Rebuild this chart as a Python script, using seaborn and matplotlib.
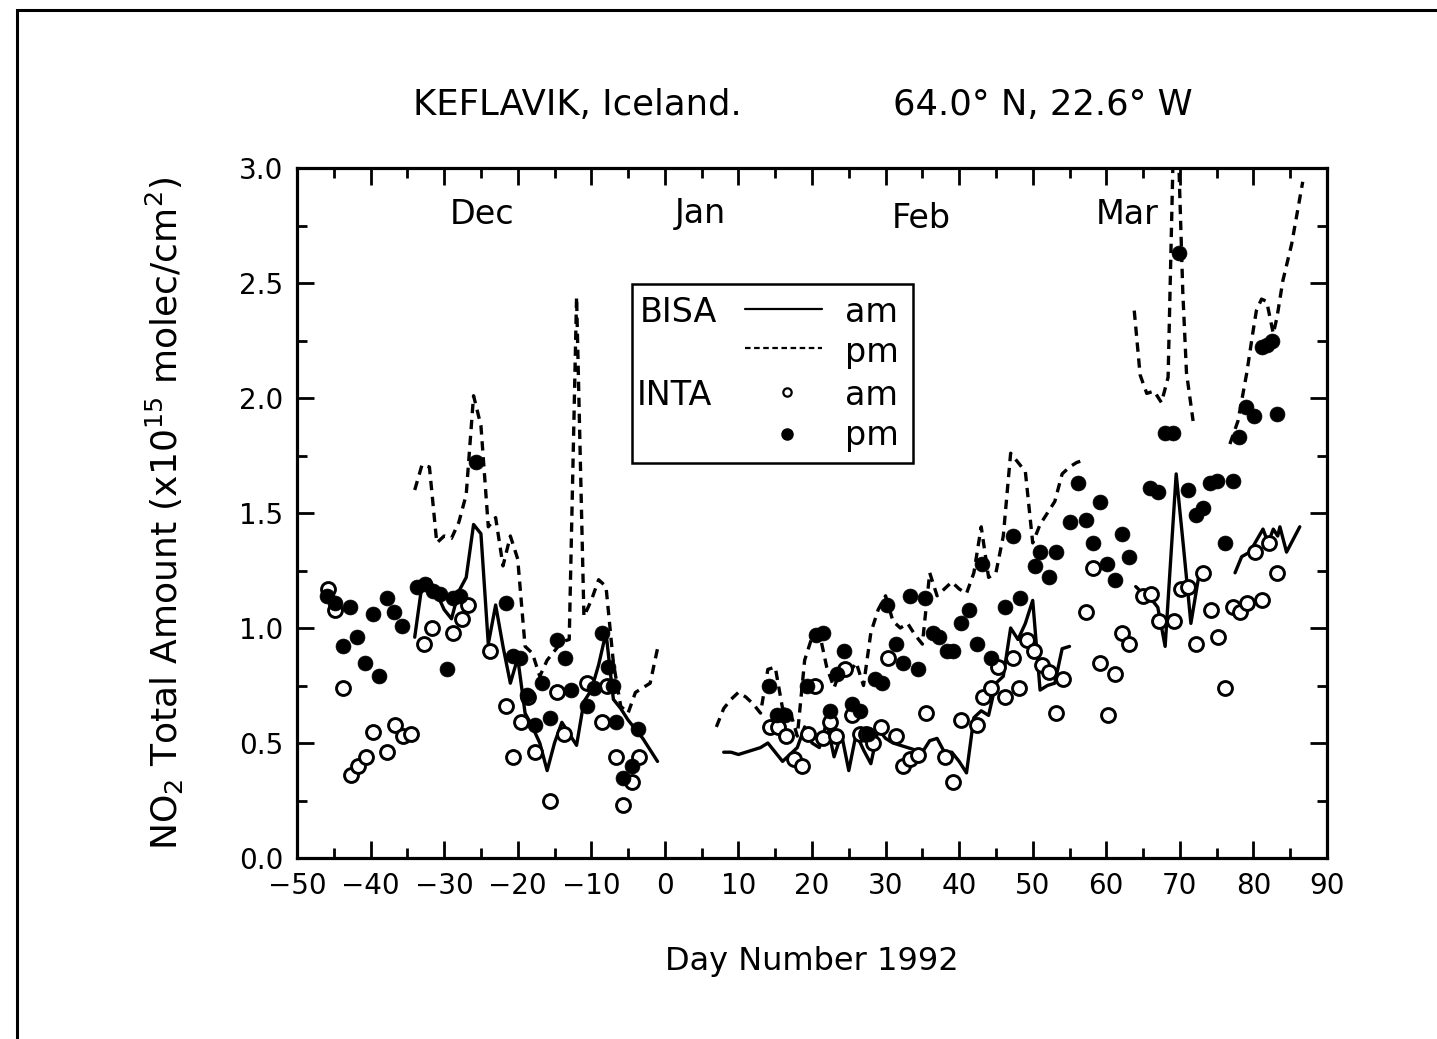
import numpy as np
import pandas as pd
import seaborn as sns
import matplotlib
matplotlib.use("Agg")
import matplotlib.pyplot as plt
from matplotlib.lines import Line2D
from matplotlib.patches import Rectangle

# ---------------- data ----------------
# BISA am (solid line), separate segments
bisa_am_seg1_day = list(range(-34, 0))
bisa_am_seg1_val = [0.96, 1.19, 1.21, 1.15, 1.08, 1.04, 1.16, 1.22, 1.45, 1.41,
                    0.93, 1.10, 0.92, 0.76, 0.87, 0.63, 0.57, 0.50, 0.38, 0.50,
                    0.59, 0.54, 0.49, 0.68, 0.73, 0.84, 0.98, 0.69, 0.65, 0.60,
                    0.56, 0.52, 0.47, 0.42]
bisa_am_seg2_day = list(range(8, 56))
bisa_am_seg2_val = [0.46, 0.46, 0.45, 0.46, 0.47, 0.48, 0.50, 0.46, 0.42, 0.45,
                    0.48, 0.57, 0.50, 0.48, 0.59, 0.44, 0.54, 0.38, 0.54, 0.47,
                    0.41, 0.56, 0.52, 0.50, 0.49, 0.48, 0.47, 0.46, 0.51, 0.52,
                    0.46, 0.46, 0.42, 0.37, 0.61, 0.64, 0.62, 0.76, 0.79, 1.00,
                    0.95, 1.02, 1.12, 0.73, 0.75, 0.76, 0.91, 0.92]
bisa_am_seg3_day = [64, 65, 66, 67, 68, 69.5, 70.5, 71.5, 72.7]
bisa_am_seg3_val = [1.18, 1.15, 1.13, 1.09, 0.92, 1.67, 1.35, 1.02, 1.25]
bisa_am_seg4_day = [77.5, 78.4, 79.5, 80.4, 81.3, 82.0, 82.7, 83.3, 83.6, 84.5, 86.3]
bisa_am_seg4_val = [1.24, 1.31, 1.33, 1.38, 1.43, 1.37, 1.43, 1.40, 1.44, 1.33, 1.44]

# BISA pm (dashed line)
bisa_pm_seg1_day = list(range(-34, 0))
bisa_pm_seg1_val = [1.60, 1.71, 1.70, 1.37, 1.40, 1.39, 1.46, 1.58, 2.01, 1.88,
                    1.44, 1.48, 1.27, 1.40, 1.30, 0.92, 0.89, 0.79, 0.86, 0.90,
                    0.94, 0.95, 2.44, 1.05, 1.12, 1.21, 1.18, 0.85, 0.66, 0.63,
                    0.72, 0.74, 0.76, 0.91]
bisa_pm_seg2_day = list(range(7, 58))
bisa_pm_seg2_val = [0.57, 0.65, 0.69, 0.72, 0.70, 0.67, 0.63, 0.82, 0.83, 0.65,
                    0.64, 0.53, 0.86, 0.96, 0.98, 0.83, 0.74, 0.83, 0.80, 0.85,
                    0.75, 0.98, 1.08, 1.14, 1.03, 1.00, 1.02, 0.97, 0.93, 1.24,
                    1.14, 1.17, 1.20, 1.17, 1.15, 1.24, 1.44, 1.22, 1.24, 1.40,
                    1.76, 1.72, 1.68, 1.37, 1.45, 1.50, 1.55, 1.67, 1.70, 1.72,
                    1.73]
bisa_pm_seg3_day = [63.8, 64.6, 65.5, 66.5, 67.5, 68.4, 69.4, 70.4, 70.9, 71.8]
bisa_pm_seg3_val = [2.38, 2.10, 2.02, 2.03, 1.98, 2.09, 3.50, 2.46, 2.11, 1.90]
bisa_pm_seg4_day = [76.8, 77.9, 79.1, 79.9, 80.4, 81.1, 81.8, 82.7, 83.2, 84.0, 85.2, 86.7]
bisa_pm_seg4_val = [1.80, 1.90, 2.11, 2.28, 2.38, 2.43, 2.42, 2.28, 2.35, 2.51, 2.67, 2.94]

# INTA am (open circles)
inta_am_day = [-45.8, -44.9, -43.8, -42.7, -41.7, -40.6, -39.7, -37.8, -36.7, -35.6,
               -34.5, -32.8, -31.7, -28.8, -27.6, -26.8, -23.7, -21.6, -20.7, -19.6,
               -18.6, -17.7, -15.6, -14.7, -13.7, -10.6, -8.6, -7.8, -6.6, -5.7,
               -4.5, -3.5,
               14.3, 15.4, 16.4, 17.5, 18.6, 19.5, 20.4, 21.5, 22.4, 23.3,
               24.5, 25.4, 26.5, 27.4, 28.3, 29.4, 30.3, 31.4, 32.4, 33.3,
               34.4, 35.5, 38.1, 39.2, 40.3, 42.4, 43.3, 44.3, 45.3, 46.2,
               47.3, 48.1, 49.2, 50.2, 51.2, 52.2, 53.1, 54.1, 57.2, 58.2,
               59.1, 60.2, 61.2, 62.1, 63.1, 65.0, 66.1, 67.2, 69.2, 70.1,
               71.1, 72.2, 73.2, 74.2, 75.2, 76.2, 77.2, 78.2, 79.1, 80.2,
               81.1, 82.1, 83.2]
inta_am_val = [1.17, 1.08, 0.74, 0.36, 0.40, 0.44, 0.55, 0.46, 0.58, 0.53,
               0.54, 0.93, 1.00, 0.98, 1.04, 1.10, 0.90, 0.66, 0.44, 0.59,
               0.70, 0.46, 0.25, 0.72, 0.54, 0.76, 0.59, 0.75, 0.44, 0.23,
               0.33, 0.44,
               0.57, 0.57, 0.53, 0.43, 0.40, 0.54, 0.75, 0.52, 0.59, 0.53,
               0.82, 0.62, 0.54, 0.54, 0.50, 0.57, 0.87, 0.53, 0.40, 0.43,
               0.45, 0.63, 0.44, 0.33, 0.60, 0.58, 0.70, 0.74, 0.83, 0.70,
               0.87, 0.74, 0.95, 0.90, 0.84, 0.81, 0.63, 0.78, 1.07, 1.26,
               0.85, 0.62, 0.80, 0.98, 0.93, 1.14, 1.15, 1.03, 1.03, 1.17,
               1.18, 0.93, 1.24, 1.08, 0.96, 0.74, 1.09, 1.07, 1.11, 1.33,
               1.12, 1.37, 1.24]

# INTA pm (filled circles)
inta_pm_day = [-45.9, -44.9, -43.8, -42.8, -41.8, -40.8, -39.7, -38.8, -37.8, -36.8,
               -35.7, -33.7, -32.6, -31.5, -30.6, -29.6, -28.8, -27.9, -25.7, -21.6,
               -20.7, -19.7, -18.7, -17.7, -16.7, -15.6, -14.7, -13.6, -12.7, -10.6,
               -9.6, -8.6, -7.7, -7.0, -6.6, -5.7, -4.5, -3.7,
               14.1, 15.3, 16.3, 19.3, 20.5, 21.5, 22.4, 23.4, 24.4, 25.4,
               26.5, 27.6, 28.5, 29.5, 30.2, 31.4, 32.4, 33.3, 34.4, 35.3,
               36.4, 37.3, 38.4, 39.2, 40.3, 41.3, 42.4, 43.1, 44.3, 46.3,
               47.3, 48.3, 50.3, 51.0, 52.2, 53.1, 55.1, 56.2, 57.2, 58.2,
               59.1, 60.1, 61.2, 62.1, 63.1, 65.9, 67.0, 68.0, 69.1, 69.9,
               71.1, 72.2, 73.2, 74.1, 75.0, 76.1, 77.2, 78.1, 79.0, 80.1,
               81.1, 81.8, 82.5, 83.2]
inta_pm_val = [1.14, 1.11, 0.92, 1.09, 0.96, 0.85, 1.06, 0.79, 1.13, 1.07,
               1.01, 1.18, 1.19, 1.16, 1.15, 0.82, 1.13, 1.14, 1.72, 1.11,
               0.88, 0.87, 0.71, 0.58, 0.76, 0.61, 0.95, 0.87, 0.73, 0.66,
               0.74, 0.98, 0.83, 0.75, 0.59, 0.35, 0.40, 0.56,
               0.75, 0.62, 0.62, 0.75, 0.97, 0.98, 0.64, 0.80, 0.90, 0.67,
               0.64, 0.54, 0.78, 0.76, 1.10, 0.93, 0.85, 1.14, 0.82, 1.13,
               0.98, 0.96, 0.90, 0.90, 1.02, 1.08, 0.93, 1.28, 0.87, 1.09,
               1.40, 1.13, 1.27, 1.33, 1.22, 1.33, 1.46, 1.63, 1.47, 1.37,
               1.55, 1.28, 1.21, 1.41, 1.31, 1.61, 1.59, 1.85, 1.85, 2.63,
               1.60, 1.49, 1.52, 1.63, 1.64, 1.37, 1.64, 1.83, 1.96, 1.92,
               2.22, 2.23, 2.25, 1.93]

month_names = ["Dec", "Jan", "Feb", "Mar"]
month_day = [-24.9, 4.8, 34.8, 62.9]
month_y = [2.80, 2.80, 2.78, 2.80]


def seg_frame(segments):
    rows = []
    for i, (d, v) in enumerate(segments):
        for a, b in zip(d, v):
            rows.append({"day": a, "val": b, "seg": i})
    return pd.DataFrame(rows)


am_df = seg_frame([(bisa_am_seg1_day, bisa_am_seg1_val), (bisa_am_seg2_day, bisa_am_seg2_val),
                   (bisa_am_seg3_day, bisa_am_seg3_val), (bisa_am_seg4_day, bisa_am_seg4_val)])
pm_df = seg_frame([(bisa_pm_seg1_day, bisa_pm_seg1_val), (bisa_pm_seg2_day, bisa_pm_seg2_val),
                   (bisa_pm_seg3_day, bisa_pm_seg3_val), (bisa_pm_seg4_day, bisa_pm_seg4_val)])
inta_am_df = pd.DataFrame({"day": inta_am_day, "val": inta_am_val})
inta_pm_df = pd.DataFrame({"day": inta_pm_day, "val": inta_pm_val})

# ---------------- style ----------------
sns.set_theme(style="white")
plt.rcParams["font.family"] = ["DejaVu Sans"]
plt.rcParams["mathtext.default"] = "regular"
plt.rcParams["text.color"] = "black"
plt.rcParams["axes.labelcolor"] = "black"
plt.rcParams["xtick.color"] = "black"
plt.rcParams["ytick.color"] = "black"
FS_TICK = 20
FS = 24

fig = plt.figure(figsize=(14.37, 10.39), dpi=100)
ax = fig.add_axes([297 / 1437, 1 - 858 / 1039, 1030 / 1437, 690 / 1039])

sns.lineplot(data=am_df, x="day", y="val", units="seg", estimator=None,
             color="black", lw=2.4, ax=ax, sort=False)
n_am = len(ax.get_lines())
sns.lineplot(data=pm_df, x="day", y="val", units="seg", estimator=None,
             color="black", lw=2.4, ax=ax, sort=False)
for ln in ax.get_lines()[n_am:]:
    ln.set_linestyle((0, (2.8, 2.0)))

sns.scatterplot(data=inta_am_df, x="day", y="val", marker="o", s=100,
                facecolor="white", edgecolor="black", linewidth=2.1, ax=ax, zorder=3)
sns.scatterplot(data=inta_pm_df, x="day", y="val", marker="o", s=115,
                color="black", edgecolor="black", linewidth=0.5, ax=ax, zorder=4)

ax.set_xlim(-50, 90)
ax.set_ylim(0, 3.0)
ax.set_xticks(np.arange(-50, 91, 10))
ax.set_xticks(np.arange(-45, 90, 10), minor=True)
ax.set_yticks(np.arange(0, 3.01, 0.5))
ax.set_yticks(np.arange(0.25, 3.0, 0.5), minor=True)
ax.set_xticklabels([f"{t}".replace("-", "\u2212") for t in range(-50, 91, 10)])
ax.set_yticklabels([f"{t:.1f}" for t in np.arange(0, 3.01, 0.5)])
ax.tick_params(which="both", direction="in", top=True, right=True,
               bottom=True, left=True, width=2.0, colors="black",
               labelsize=FS_TICK, pad=10)
ax.tick_params(which="major", length=12)
ax.tick_params(which="minor", length=7)
for s in ax.spines.values():
    s.set_linewidth(2.3)
    s.set_color("black")

ax.set_xlabel("Day Number 1992", fontsize=23)
ax.xaxis.set_label_coords(0.5, -0.128)
ax.set_ylabel("NO$_2$ Total Amount (x10$^{15}$ molec/cm$^2$)", fontsize=26)
ax.yaxis.set_label_coords(-0.108, 0.5)

for name, d, y in zip(month_names, month_day, month_y):
    ax.text(d, y, name, fontsize=FS, ha="center", va="center")

fig.text(413 / 1437, 1 - 105 / 1039, "KEFLAVIK, Iceland.", fontsize=25.5, ha="left", va="center")
fig.text(1193 / 1437, 1 - 105 / 1039, "64.0\u00b0 N, 22.6\u00b0 W", fontsize=25.5, ha="right", va="center")

# legend box drawn manually
ax.add_patch(Rectangle((0.325, 0.572), 0.273, 0.260, transform=ax.transAxes,
                       fill=True, facecolor="white", edgecolor="black", lw=1.8, zorder=6))
ax.text(0.333, 0.791, "BISA", transform=ax.transAxes, fontsize=FS, va="center", zorder=7)
ax.text(0.330, 0.671, "INTA", transform=ax.transAxes, fontsize=FS, va="center", zorder=7)
for yy, lab in zip([0.791, 0.733, 0.671, 0.613], ["am", "pm", "am", "pm"]):
    ax.text(0.532, yy, lab, transform=ax.transAxes, fontsize=FS, va="center", zorder=7)
ax.add_line(Line2D([0.435, 0.510], [0.795, 0.795], transform=ax.transAxes,
                   color="black", lw=1.6, zorder=7))
ax.add_line(Line2D([0.435, 0.510], [0.739, 0.739], transform=ax.transAxes,
                   color="black", lw=1.6, ls=(0, (2.5, 1.6)), zorder=7))
ax.add_line(Line2D([0.476], [0.675], transform=ax.transAxes, marker="o", ms=6,
                   mfc="white", mec="black", mew=1.6, zorder=7))
ax.add_line(Line2D([0.476], [0.614], transform=ax.transAxes, marker="o", ms=8,
                   mfc="black", mec="black", zorder=7))

# outer page frame
fig.patches.append(Rectangle((17 / 1437, -0.5), 2.0, 1.5 - 10 / 1039, transform=fig.transFigure,
                             fill=False, edgecolor="black", lw=2.2))

fig.savefig("out.png", dpi=100)
